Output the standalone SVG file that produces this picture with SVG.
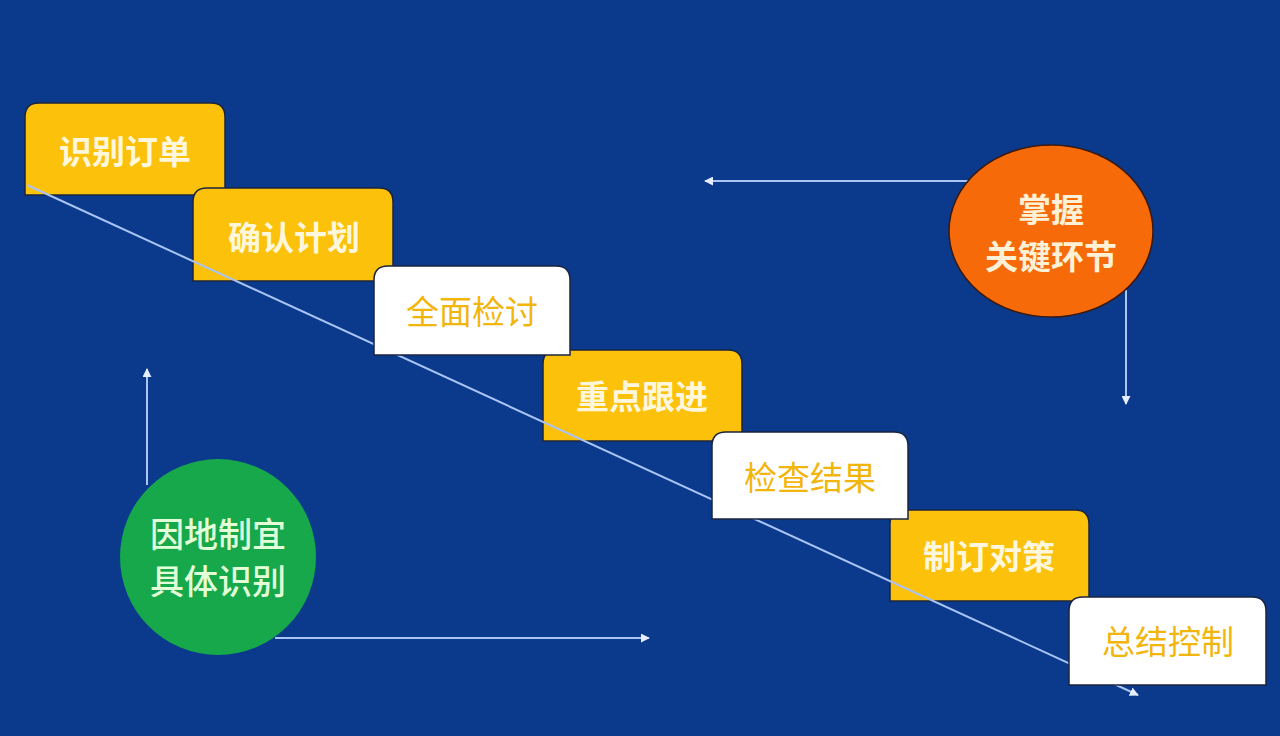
<svg xmlns="http://www.w3.org/2000/svg" width="1280" height="736" viewBox="0 0 1280 736">
<defs>
<style>
.bg{fill:#0b3a8c}
.yb{fill:#fcc10a;stroke:#1a2440;stroke-width:1.5}
.wb{fill:#ffffff;stroke:#1a2440;stroke-width:1.5}
.yt{font-family:"Noto Sans CJK SC","Noto Sans",sans-serif;font-size:33px;font-weight:700;fill:#fff7dc;text-anchor:middle}
.wt{font-family:"Noto Sans CJK SC","Noto Sans",sans-serif;font-size:33px;font-weight:400;fill:#f2b50c;text-anchor:middle}
.ot{font-family:"Noto Sans CJK SC","Noto Sans",sans-serif;font-size:33px;font-weight:700;fill:#fff1d6;text-anchor:middle}
.gt{font-family:"Noto Sans CJK SC","Noto Sans",sans-serif;font-size:34px;font-weight:500;fill:#e2ffd8;text-anchor:middle}
.conn{fill:none;stroke:#a9c4f5;stroke-width:2}
</style>
<marker id="ah" viewBox="0 0 10 10" refX="9" refY="5" markerWidth="9" markerHeight="9" orient="auto" markerUnits="userSpaceOnUse">
<path d="M0,0 L10,5 L0,10 Z" fill="#e6eeff"/>
</marker>
</defs>
<rect class="bg" x="0" y="0" width="1280" height="736"/>

<g id="box1">
<path class="yb" d="M25,195 V117 Q25,103 39,103 H211 Q225,103 225,117 V195 Z"/>
<text class="yt" x="125" y="164">识别订单</text>
</g>
<g id="box2">
<path class="yb" d="M193,281 V202 Q193,188 207,188 H379 Q393,188 393,202 V281 Z"/>
<text class="yt" x="294" y="250">确认计划</text>
</g>
<g id="box4">
<path class="yb" d="M543,441 V364 Q543,350 557,350 H728 Q742,350 742,364 V441 Z"/>
<text class="yt" x="642" y="409">重点跟进</text>
</g>
<g id="box6">
<path class="yb" d="M890,601 V524 Q890,510 904,510 H1075 Q1089,510 1089,524 V601 Z"/>
<text class="yt" x="989" y="569">制订对策</text>
</g>

<g id="connectors">
<line class="conn" x1="27" y1="185" x2="1138" y2="695" marker-end="url(#ah)"/>
<line class="conn" x1="970" y1="181" x2="705" y2="181" marker-end="url(#ah)"/>
<line class="conn" x1="1126" y1="290" x2="1126" y2="404" marker-end="url(#ah)"/>
<line class="conn" x1="147" y1="485" x2="147" y2="369" marker-end="url(#ah)"/>
<line class="conn" x1="275" y1="638" x2="649" y2="638" marker-end="url(#ah)"/>
</g>

<g id="box3">
<path class="wb" d="M374,355 V280 Q374,266 388,266 H556 Q570,266 570,280 V355 Z"/>
<text class="wt" x="472" y="324">全面检讨</text>
</g>
<g id="box5">
<path class="wb" d="M712,519 V446 Q712,432 726,432 H894 Q908,432 908,446 V519 Z"/>
<text class="wt" x="810" y="490">检查结果</text>
</g>
<g id="box7">
<path class="wb" d="M1069,685 V611 Q1069,597 1083,597 H1252 Q1266,597 1266,611 V685 Z"/>
<text class="wt" x="1168" y="654">总结控制</text>
</g>

<g id="circle-orange">
<ellipse cx="1051" cy="231" rx="102" ry="86" fill="#f66a0a" stroke="#3a1a10" stroke-width="1.5"/>
<text class="ot" x="1051" y="222">掌握</text>
<text class="ot" x="1051" y="269">关键环节</text>
</g>
<g id="circle-green">
<circle cx="218" cy="557" r="98" fill="#16a84a"/>
<text class="gt" x="218" y="547">因地制宜</text>
<text class="gt" x="218" y="594">具体识别</text>
</g>
</svg>
